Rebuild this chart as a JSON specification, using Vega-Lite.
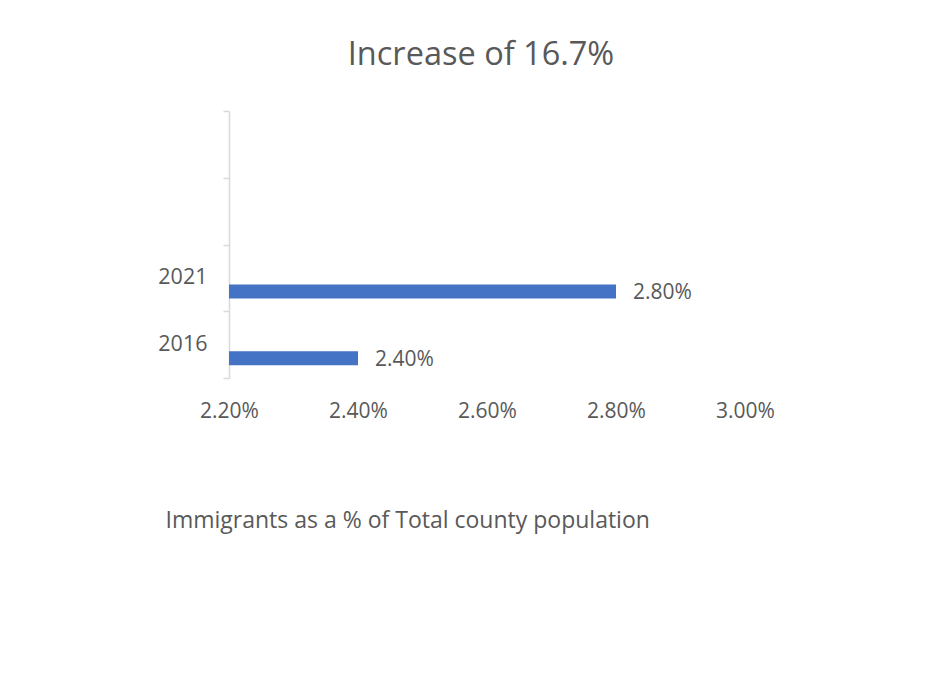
{
  "$schema": "https://vega.github.io/schema/vega-lite/v6.json",
  "autosize": "none",
  "width": 516,
  "height": 267,
  "padding": {"left": 229, "top": 111, "right": 200, "bottom": 322},
  "background": "white",
  "config": {
    "view": {"stroke": null},
    "font": "Open Sans"
  },
  "title": {
    "text": "Increase of 16.7%",
    "font": "Open Sans",
    "fontSize": 32.5,
    "fontWeight": "normal",
    "color": "#595959",
    "anchor": "middle",
    "baseline": "alphabetic",
    "offset": 3,
    "dx": -6
  },
  "data": {
    "values": [
      {"year": "2016", "share": 0.024},
      {"year": "2021", "share": 0.028}
    ]
  },
  "encoding": {
    "y": {
      "field": "year",
      "type": "nominal",
      "scale": {"domain": ["a", "b", "2021", "2016"], "paddingInner": 0, "paddingOuter": 0},
      "axis": {
        "title": null,
        "labelExpr": "datum.value == '2021' || datum.value == '2016' ? datum.value : ''",
        "domainColor": "#D9D9D9",
        "domainWidth": 1.5,
        "tickColor": "#D9D9D9",
        "tickWidth": 1.5,
        "tickSize": 6,
        "tickBand": "extent",
        "labelPadding": 16,
        "labelColor": "#595959",
        "labelFontSize": 21.5,
        "labelFont": "Open Sans",
        "grid": false
      }
    }
  },
  "layer": [
    {
      "mark": {"type": "bar", "height": 14, "yOffset": 13.5, "color": "#4472C4"},
      "encoding": {
        "x": {
          "field": "share",
          "type": "quantitative",
          "scale": {"domain": [0.022, 0.03], "nice": false, "zero": false},
          "axis": {
            "values": [0.022, 0.024, 0.026, 0.028, 0.03],
            "format": ".2%",
            "domain": false,
            "ticks": false,
            "grid": false,
            "labelFlush": false,
            "labelPadding": 22,
            "labelColor": "#595959",
            "labelFontSize": 21,
            "labelFont": "Open Sans",
            "title": "Immigrants as a % of Total county population",
            "titleFont": "Open Sans",
            "titleFontSize": 23,
            "titleFontWeight": "normal",
            "titleColor": "#595959",
            "titleAnchor": "start",
            "titleAlign": "left",
            "titleBaseline": "alphabetic",
            "titleX": -64,
            "titleY": 149
          }
        },
        "x2": {"datum": 0.022}
      }
    },
    {
      "mark": {"type": "text", "align": "left", "baseline": "middle", "dx": 17, "yOffset": 15, "fontSize": 21, "font": "Open Sans", "color": "#595959"},
      "encoding": {
        "x": {"field": "share", "type": "quantitative"},
        "text": {"field": "share", "type": "quantitative", "format": ".2%"}
      }
    }
  ]
}
